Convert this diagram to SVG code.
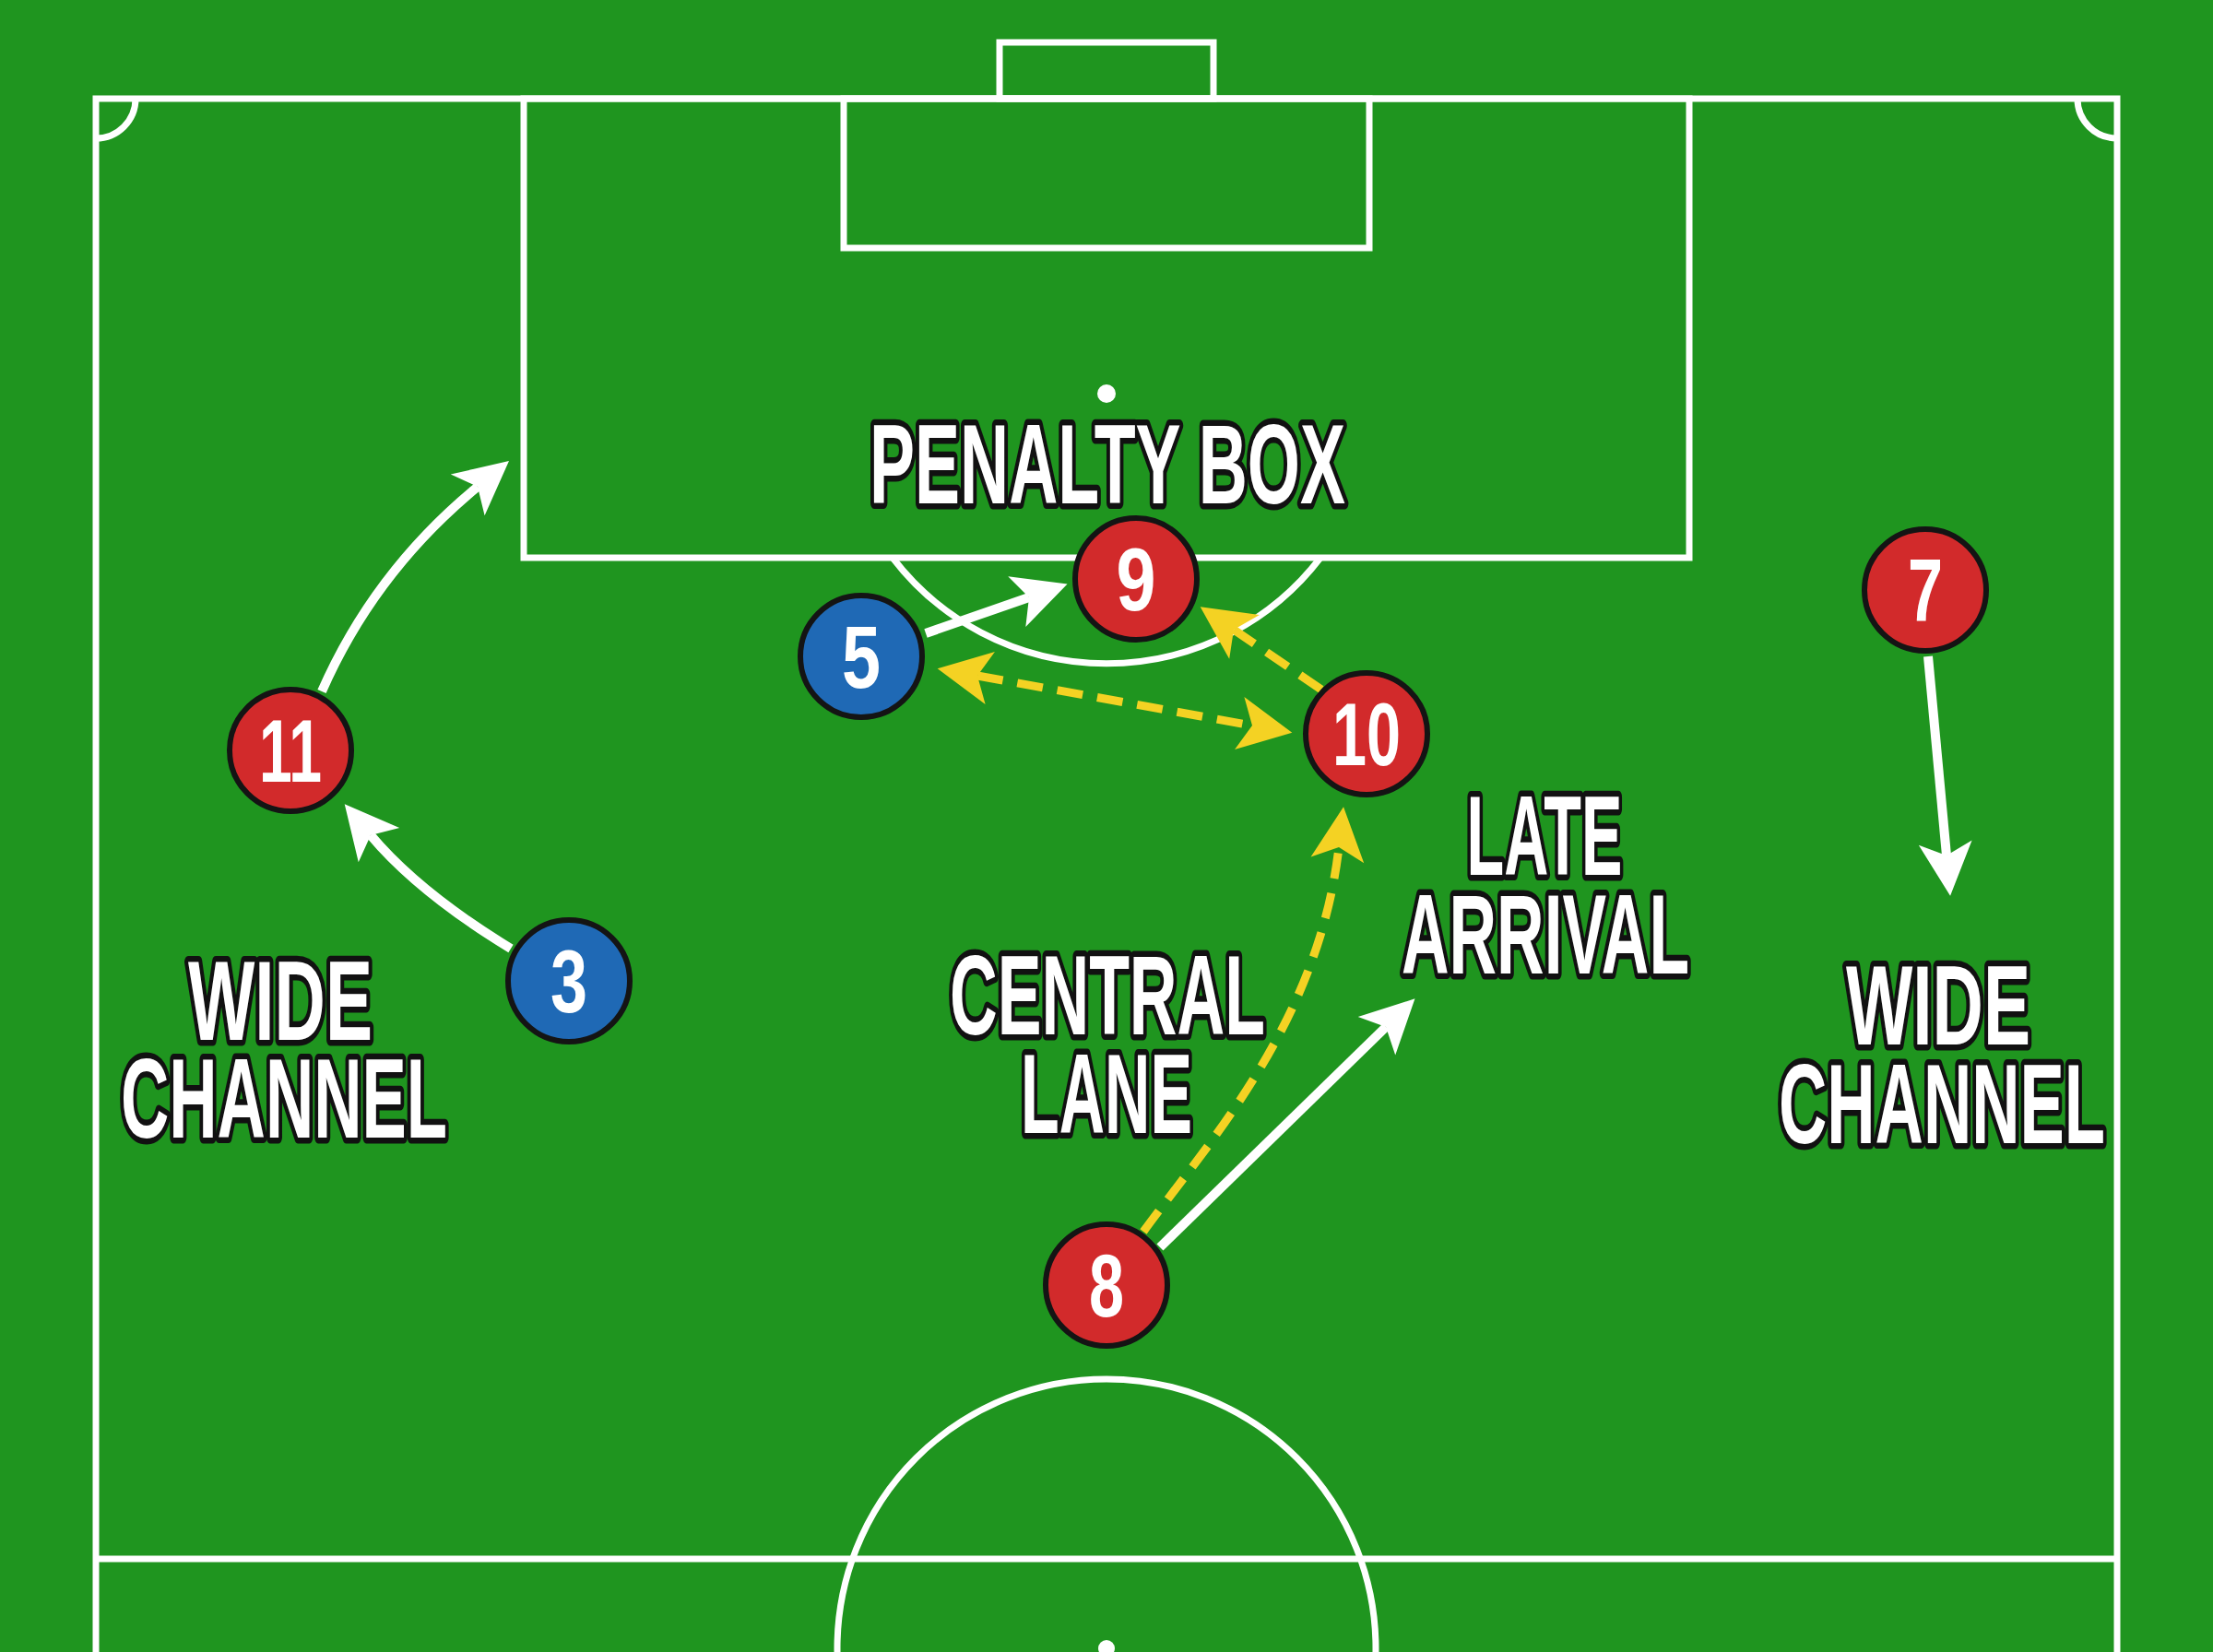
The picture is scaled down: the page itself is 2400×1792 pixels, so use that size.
<svg xmlns="http://www.w3.org/2000/svg" width="2400" height="1792" viewBox="0 0 2400 1792">
<style>
.ln{fill:none;stroke:#ffffff;stroke-width:7}
.node circle{stroke:#141414;stroke-width:6}
.red{fill:#d22a2b}
.blue{fill:#1f69b5}
.num{font-family:"Liberation Sans",Arial,sans-serif;font-weight:bold;font-size:96px;fill:#ffffff;text-anchor:middle}
.lbl{font-family:"Liberation Sans",Arial,sans-serif;font-weight:bold;font-size:122px;fill:#ffffff;stroke:#111111;stroke-width:13;stroke-linejoin:round;paint-order:stroke;text-anchor:middle}
.wa{fill:none;stroke:#ffffff;stroke-width:10}
.ya{fill:none;stroke:#f4d223;stroke-width:9;stroke-dasharray:28 16}
</style>
<defs>
<marker id="aw" markerUnits="userSpaceOnUse" viewBox="-16 -30 62 60" refX="0" refY="0" markerWidth="62" markerHeight="60" orient="auto-start-reverse">
<path d="M44,0 L-14,-29 L0,0 L-14,29 Z" fill="#ffffff"/>
</marker>
<marker id="ay" markerUnits="userSpaceOnUse" viewBox="-16 -30 62 60" refX="0" refY="0" markerWidth="62" markerHeight="60" orient="auto-start-reverse">
<path d="M44,0 L-14,-29 L0,0 L-14,29 Z" fill="#f4d223"/>
</marker>
</defs>
<rect x="0" y="0" width="2400" height="1792" fill="#1f951f"/>
<g id="pitch">
<path class="ln" d="M104,1800 L104,107 L2296,107 L2296,1800"/>
<rect class="ln" x="1084" y="46" width="232" height="61"/>
<rect class="ln" x="568" y="107" width="1264" height="498"/>
<rect class="ln" x="915" y="107" width="570" height="162"/>
<circle cx="1200" cy="427" r="10" fill="#ffffff"/>
<path class="ln" d="M968,605 A292,292 0 0 0 1432,605"/>
<path class="ln" d="M104,150 A43,43 0 0 0 147,107"/>
<path class="ln" d="M2253,107 A43,43 0 0 0 2296,150"/>
<line class="ln" x1="104" y1="1691" x2="2296" y2="1691"/>
<circle class="ln" cx="1200" cy="1788" r="292"/>
<circle cx="1200" cy="1788" r="9" fill="#ffffff"/>
</g>
<g id="connectors">
<path class="wa" d="M349,750 Q406,620 518,528" marker-end="url(#aw)"/>
<path class="wa" d="M554,1029 Q454,968 402,906" marker-end="url(#aw)"/>
<path class="wa" d="M1004,687 L1116,648" marker-end="url(#aw)"/>
<path class="wa" d="M2091,712 L2111,928" marker-end="url(#aw)"/>
<path class="wa" d="M1258,1353 L1503,1114" marker-end="url(#aw)"/>
<path class="ya" d="M1240,1336 C1310,1240 1430,1110 1452,919" marker-end="url(#ay)"/>
<path class="ya" d="M1060,733 L1358,787" marker-start="url(#ay)" marker-end="url(#ay)"/>
<path class="ya" d="M1433,748 L1338,683" marker-end="url(#ay)"/>
</g>
<g id="labels">
<text class="lbl" x="1201" y="546" font-size="118" textLength="516" lengthAdjust="spacingAndGlyphs">PENALTY BOX</text>
<text class="lbl" x="304" y="1128" font-size="126" textLength="200" lengthAdjust="spacingAndGlyphs">WIDE</text>
<text class="lbl" x="308" y="1234" font-size="120" textLength="354" lengthAdjust="spacingAndGlyphs">CHANNEL</text>
<text class="lbl" x="2102" y="1133" font-size="126" textLength="200" lengthAdjust="spacingAndGlyphs">WIDE</text>
<text class="lbl" x="2106" y="1240" font-size="120" textLength="354" lengthAdjust="spacingAndGlyphs">CHANNEL</text>
<text class="lbl" x="1201" y="1122" font-size="122" textLength="342" lengthAdjust="spacingAndGlyphs">CENTRAL</text>
<text class="lbl" x="1200" y="1229" font-size="122" textLength="186" lengthAdjust="spacingAndGlyphs">LANE</text>
<text class="lbl" x="1675" y="949" font-size="124" textLength="169" lengthAdjust="spacingAndGlyphs">LATE</text>
<text class="lbl" x="1676" y="1056" font-size="124" textLength="312" lengthAdjust="spacingAndGlyphs">ARRIVAL</text>
</g>
<g id="node-9" class="node"><circle class="red" cx="1232" cy="628" r="66"/><text class="num" x="1232" y="662" textLength="43" lengthAdjust="spacingAndGlyphs">9</text></g>
<g id="node-5" class="node"><circle class="blue" cx="934" cy="712" r="66"/><text class="num" x="934" y="746" textLength="42" lengthAdjust="spacingAndGlyphs">5</text></g>
<g id="node-10" class="node"><circle class="red" cx="1482" cy="796" r="66"/><text class="num" x="1482" y="830" textLength="74" lengthAdjust="spacingAndGlyphs">10</text></g>
<g id="node-11" class="node"><circle class="red" cx="315" cy="814" r="66"/><text class="num" x="315" y="848" textLength="68" lengthAdjust="spacingAndGlyphs">11</text></g>
<g id="node-7" class="node"><circle class="red" cx="2088" cy="640" r="66"/><text class="num" x="2088" y="674" textLength="38" lengthAdjust="spacingAndGlyphs">7</text></g>
<g id="node-3" class="node"><circle class="blue" cx="617" cy="1064" r="66"/><text class="num" x="617" y="1098" textLength="40" lengthAdjust="spacingAndGlyphs">3</text></g>
<g id="node-8" class="node"><circle class="red" cx="1200" cy="1394" r="66"/><text class="num" x="1200" y="1428" textLength="38" lengthAdjust="spacingAndGlyphs">8</text></g>
</svg>
